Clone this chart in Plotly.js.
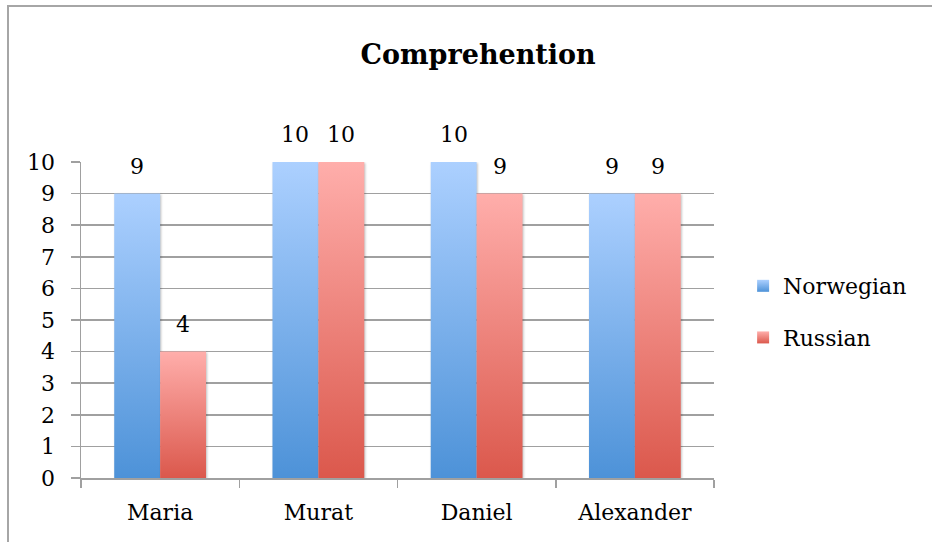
<!DOCTYPE html>
<html>
<head>
<meta charset="utf-8">
<script src="https://cdn.plot.ly/plotly-3.0.1.min.js"></script>
<style>
  html, body { margin: 0; padding: 0; background: #fff; }
  #wrap { position: relative; width: 932px; height: 542px; overflow: hidden; }
  #chart { width: 932px; height: 542px; }
  #frame { position: absolute; left: 7px; top: 5px; width: 940px; height: 560px;
           border-left: 2px solid #a6a6a6; border-top: 2px solid #a6a6a6; pointer-events: none; }
</style>
</head>
<body>
<div id="wrap">
  <div id="chart"></div>
  <div id="frame"></div>
</div>
<script>
const categories = ['Maria', 'Murat', 'Daniel', 'Alexander'];
const norwegian = [9, 10, 10, 9];
const russian = [4, 10, 9, 9];
const seriesNames = ['Norwegian', 'Russian'];
const yTicks = [0, 1, 2, 3, 4, 5, 6, 7, 8, 9, 10];

const FONT = 'DejaVu Serif, serif';
const GRID = '#a0a0a0';

const traces = [
  { type: 'bar', name: seriesNames[0], x: categories, y: norwegian, legendgroup: 'a',
    marker: { color: '#7aaee8' }, hoverinfo: 'skip' },
  { type: 'bar', name: seriesNames[1], x: categories, y: russian, legendgroup: 'b',
    marker: { color: '#ee8079' }, hoverinfo: 'skip' }
];

const annotations = [];
[norwegian, russian].forEach((vals, s) => {
  vals.forEach((v, i) => {
    annotations.push({
      x: categories[i], y: v, xref: 'x', yref: 'y', text: String(v), showarrow: false,
      xshift: s === 0 ? -23 : 23, yanchor: 'bottom', yshift: 13,
      font: { family: FONT, size: 22, color: '#000' }
    });
  });
});

const layout = {
  width: 932, height: 542,
  margin: { l: 81, r: 218, t: 162, b: 64 },
  paper_bgcolor: 'rgba(0,0,0,0)', plot_bgcolor: 'rgba(0,0,0,0)',
  font: { family: FONT, size: 22, color: '#000' },
  title: { text: '<b>Comprehention</b>', font: { family: FONT, size: 27, color: '#000' },
           x: 0.513, xref: 'container', xanchor: 'center',
           y: 1 - 55 / 542, yref: 'container', yanchor: 'middle' },
  barmode: 'group', bargap: 0.42, bargroupgap: 0,
  xaxis: { type: 'category', tickson: 'boundaries', ticks: 'outside', ticklen: 8,
           tickcolor: GRID, tickwidth: 1.5, showline: true, linecolor: GRID, linewidth: 1.5,
           showgrid: false, ticklabelstandoff: 14, tickfont: { family: FONT, size: 22 } },
  yaxis: { range: [0, 10], tickvals: yTicks, ticktext: yTicks.map(String), ticks: 'outside', ticklen: 9,
           tickcolor: GRID, tickwidth: 1.5, showline: true, linecolor: GRID, linewidth: 1.5,
           showgrid: true, gridcolor: GRID, gridwidth: 1.5, zeroline: false,
           ticklabelstandoff: 11, tickfont: { family: FONT, size: 22 } },
  legend: { x: 1.046, xanchor: 'left', y: 0.674, yanchor: 'top', traceorder: 'grouped',
            tracegroupgap: 20, font: { family: FONT, size: 22, color: '#000' },
            bgcolor: 'rgba(0,0,0,0)' },
  annotations: annotations,
  showlegend: true
};

Plotly.newPlot('chart', traces, layout, { staticPlot: true, displayModeBar: false }).then(gd => {
  const svgNS = 'http://www.w3.org/2000/svg';
  const svg = gd.querySelector('.main-svg');
  let defs = svg.querySelector('defs');
  if (!defs) { defs = document.createElementNS(svgNS, 'defs'); svg.insertBefore(defs, svg.firstChild); }
  const grads = [
    { id: 'gradBlue', top: '#acd0ff', bottom: '#4d92d8' },
    { id: 'gradRed', top: '#ffaeab', bottom: '#db584c' }
  ];
  grads.forEach(g => {
    const lg = document.createElementNS(svgNS, 'linearGradient');
    lg.setAttribute('id', g.id);
    lg.setAttribute('x1', '0'); lg.setAttribute('y1', '0');
    lg.setAttribute('x2', '0'); lg.setAttribute('y2', '1');
    [[0, g.top], [1, g.bottom]].forEach(([o, c]) => {
      const st = document.createElementNS(svgNS, 'stop');
      st.setAttribute('offset', o); st.setAttribute('stop-color', c);
      lg.appendChild(st);
    });
    defs.appendChild(lg);
  });
  const barTraces = gd.querySelectorAll('.barlayer .trace');
  barTraces.forEach((t, i) => {
    t.querySelectorAll('path').forEach(p => {
      p.style.fill = 'url(#' + grads[i].id + ')';
      p.style.filter = 'drop-shadow(1px 1px 1px rgba(0,0,0,0.25))';
    });
  });
  const legTraces = gd.querySelectorAll('.legend .traces');
  legTraces.forEach((t, i) => {
    t.querySelectorAll('.legendpoints path').forEach(p => { p.style.fill = 'url(#' + grads[i].id + ')'; });
  });
});
</script>
</body>
</html>
